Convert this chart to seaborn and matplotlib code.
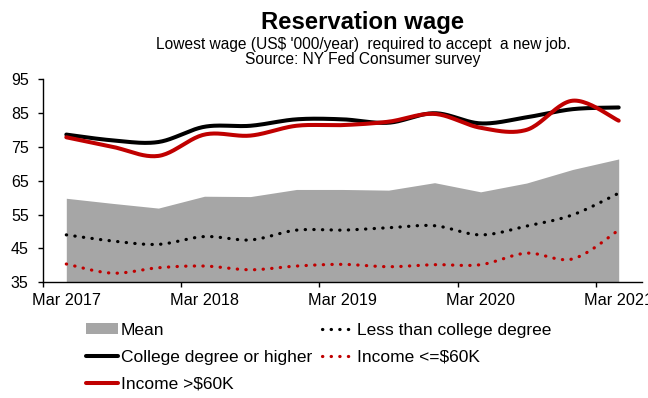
import numpy as np
import pandas as pd
import matplotlib
matplotlib.use("Agg")
import matplotlib.pyplot as plt
import seaborn as sns
from matplotlib.patches import Patch
from matplotlib.lines import Line2D

# ---- data (survey waves, every 4 months) ----
periods = ["Mar 2017", "Jul 2017", "Nov 2017", "Mar 2018", "Jul 2018", "Nov 2018",
           "Mar 2019", "Jul 2019", "Nov 2019", "Mar 2020", "Jul 2020", "Nov 2020", "Mar 2021"]
mean_wage = [59.8, 58.3, 56.9, 60.4, 60.3, 62.4, 62.4, 62.2, 64.4, 61.7, 64.3, 68.3, 71.4]
less_college = [49.0, 47.2, 46.2, 48.5, 47.5, 50.4, 50.4, 51.1, 51.7, 49.0, 51.6, 54.9, 61.3]
college_plus = [78.6, 76.9, 76.4, 80.9, 81.2, 83.1, 83.1, 82.1, 84.9, 81.9, 83.7, 86.1, 86.6]
income_low = [40.4, 37.7, 39.3, 39.8, 38.7, 39.8, 40.3, 39.6, 40.2, 40.2, 43.6, 41.9, 50.4]
income_high = [77.8, 75.0, 72.3, 78.6, 78.3, 81.2, 81.4, 82.4, 84.7, 80.6, 80.0, 88.6, 82.7]
tick_labels = ["Mar 2017", "Mar 2018", "Mar 2019", "Mar 2020", "Mar 2021"]
yticks = [35, 45, 55, 65, 75, 85, 95]

RED = "#C00000"
GRAY = "#A6A6A6"

sns.set_style("ticks")
plt.rcParams["font.family"] = ["Liberation Sans", "DejaVu Sans"]
plt.rcParams["text.color"] = "black"
plt.rcParams["xtick.color"] = "black"
plt.rcParams["ytick.color"] = "black"


def smooth(y, n=24):
    """Catmull-Rom rendering of a series (like a spreadsheet 'smoothed line')."""
    y = np.asarray(y, float)
    x = np.arange(len(y), dtype=float)
    P = np.concatenate([[y[0]], y, [y[-1]]])
    X = np.concatenate([[x[0]], x, [x[-1]]])
    xs, ys = [], []
    t = np.linspace(0, 1, n, endpoint=False)
    for i in range(1, len(P) - 2):
        for arr, out in ((X, xs), (P, ys)):
            p0, p1, p2, p3 = arr[i - 1], arr[i], arr[i + 1], arr[i + 2]
            m1 = (p2 - p0) / 2.0
            m2 = (p3 - p1) / 2.0
            h00 = 2 * t**3 - 3 * t**2 + 1
            h10 = t**3 - 2 * t**2 + t
            h01 = -2 * t**3 + 3 * t**2
            h11 = t**3 - t**2
            out.extend(h00 * p1 + h10 * m1 + h01 * p2 + h11 * m2)
    xs.append(X[-2]); ys.append(P[-2])
    return np.array(xs), np.array(ys)


fig = plt.figure(figsize=(6.48, 3.98), dpi=100)
ax = fig.add_axes([0.0668, 0.2907, 0.9235, 0.5108])

idx = np.arange(len(periods))
ax.fill_between(idx, 35, mean_wage, color=GRAY, lw=0, zorder=1)

dot = (0, (0.1, 2.6))
styles = [
    (less_college, "black", dot, 2.3),
    (income_low, RED, dot, 2.3),
    (college_plus, "black", "-", 2.9),
    (income_high, RED, "-", 2.9),
]
for vals, col, ls, lw in styles:
    sx, sy = smooth(vals)
    sns.lineplot(x=sx, y=sy, ax=ax, color=col, lw=lw, linestyle=ls, sort=False,
                 estimator=None, zorder=3, dash_capstyle="round", solid_capstyle="round")

ax.set_xlim(-0.5, len(periods) - 0.5)
ax.set_ylim(35, 95)
ax.set_yticks(yticks)
ax.set_yticklabels([str(v) for v in yticks])
ax.set_xticks(np.arange(-0.5, len(periods), 3))
ax.set_xticklabels([])
ax.set_xticks(np.arange(0, len(periods), 3), minor=True)
ax.set_xticklabels(tick_labels, minor=True)
ax.tick_params(axis="x", which="major", length=3.5, width=1, color="black", direction="out")
ax.tick_params(axis="x", which="minor", length=0, labelsize=11.7, pad=8, labelcolor="black")
ax.tick_params(axis="y", length=3.5, width=1, color="black", labelsize=11.5, pad=7,
               labelcolor="black")
for s in ["top", "right"]:
    ax.spines[s].set_visible(False)
for s in ["left", "bottom"]:
    ax.spines[s].set_color("black")
    ax.spines[s].set_linewidth(1)
ax.set_xlabel("")
ax.set_ylabel("")

fig.text(0.56, 1 - 28.5 / 398, "Reservation wage", ha="center", va="baseline",
         fontsize=17.2, fontweight="bold", color="black")
fig.text(0.56, 1 - 49 / 398, "Lowest wage (US$ '000/year)  required to accept  a new job.",
         ha="center", va="baseline", fontsize=11.2, color="black")
fig.text(0.56, 1 - 64 / 398, "Source: NY Fed Consumer survey",
         ha="center", va="baseline", fontsize=11.2, color="black")

handles = [
    Patch(facecolor=GRAY, edgecolor="none"),
    Line2D([], [], color="black", lw=2.9),
    Line2D([], [], color=RED, lw=2.9),
    Line2D([], [], color="black", lw=2.3, linestyle=dot, dash_capstyle="round"),
    Line2D([], [], color=RED, lw=2.3, linestyle=dot, dash_capstyle="round"),
]
labels = ["Mean", "College degree or higher", "Income >$60K",
          "Less than college degree", "Income <=$60K"]
fig.legend(handles, labels, ncol=2, loc="upper left",
           bbox_to_anchor=(86 / 648, 1 - 323 / 398), frameon=False,
           fontsize=12.5, handlelength=1.85, handleheight=0.6, handletextpad=0.15,
           columnspacing=0.6, labelspacing=0.68, borderpad=0, borderaxespad=0,
           labelcolor="black")

fig.savefig("out.png", dpi=100)
